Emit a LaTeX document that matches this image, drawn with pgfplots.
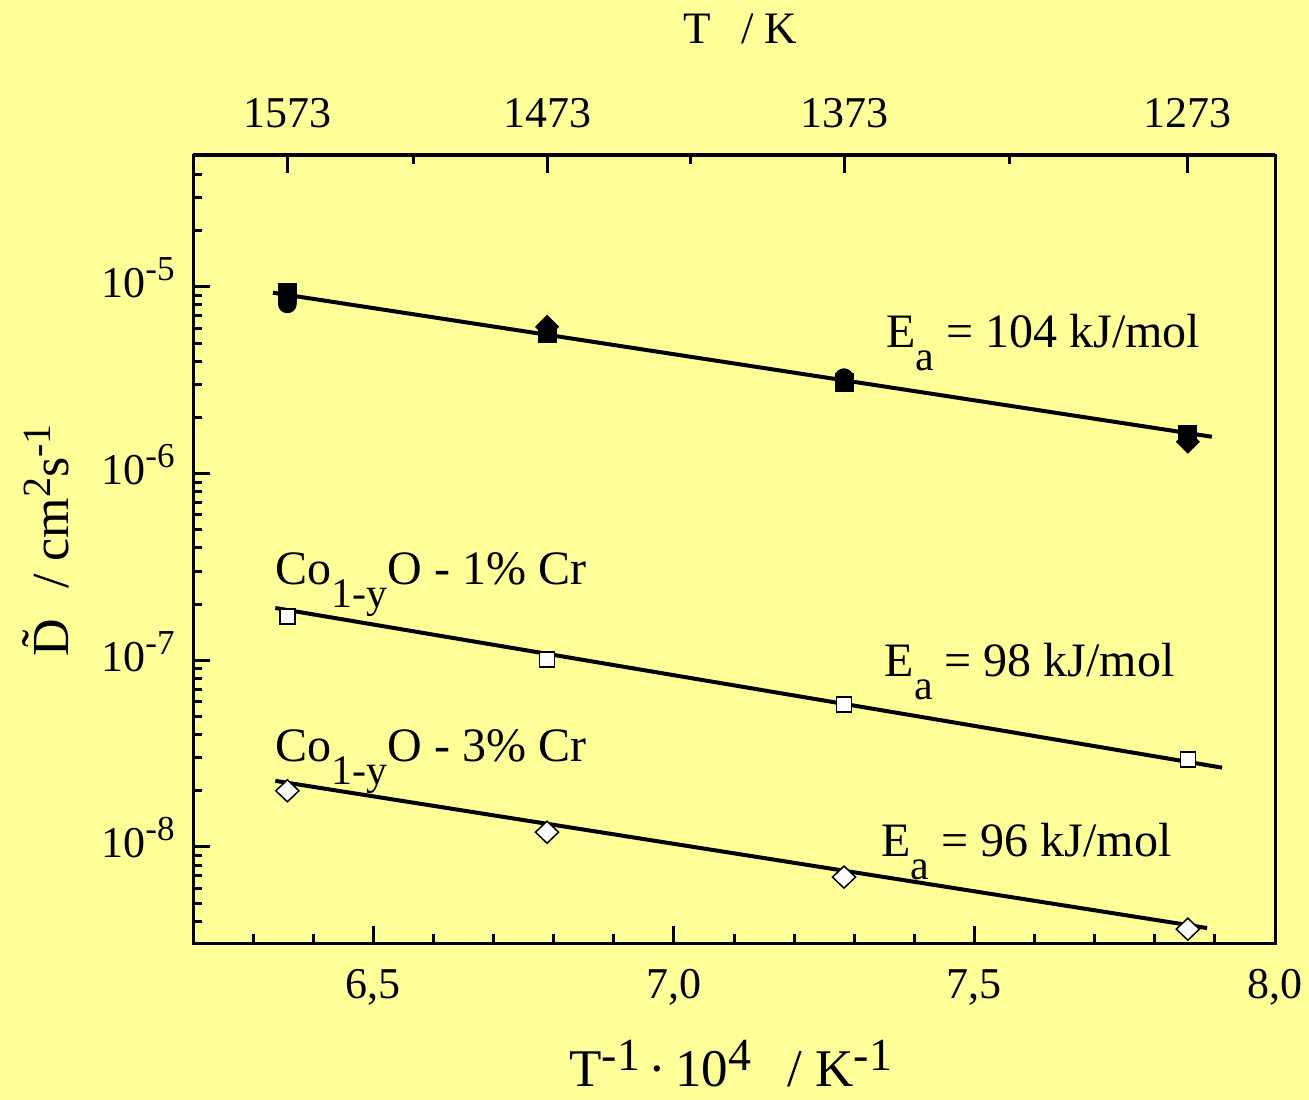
\documentclass[border=0pt]{standalone}
\usepackage{fontspec}
\setmainfont{Liberation Serif}
\usepackage{pgfplots}
\pgfplotsset{compat=1.18}
\definecolor{bg}{RGB}{255,255,153}
\newcommand{\fs}[1]{\fontsize{#1bp}{#1bp}\selectfont}
\newcommand{\upy}[1]{\raisebox{8.5bp}{\fs{17.5}#1}}
\newcommand{\sub}[1]{\raisebox{-11.5bp}{\fs{21}#1}}
\begin{document}
\begin{tikzpicture}
\fill[bg] (0,0) rectangle (654.5bp,550bp);
\begin{axis}[
  at={(96.5bp,78.5bp)}, anchor=south west,
  width=541bp, height=394bp, scale only axis,
  xmin=6.2, xmax=8.0, ymode=log, ymin=3.06e-9, ymax=5.08e-5,
  axis line style={line width=1.5bp},
  every tick/.style={black, line width=1.5bp},
  major tick length=8.5bp, minor tick length=4.5bp, tick align=inside,
  xtick={6.5,7,7.5,8}, xticklabels={{6,5},{7,0},{7,5},{8,0}},
  minor xtick={6.3,6.4,6.6,6.7,6.8,6.9,7.1,7.2,7.3,7.4,7.6,7.7,7.8,7.9},
  xtick pos=bottom, ytick pos=left,
  ytick={1e-8,1e-7,1e-6,1e-5},
  yticklabels={10\upy{-8},10\upy{-7},10\upy{-6},10\upy{-5}},
  minor ytick={4e-9,5e-9,6e-9,7e-9,8e-9,9e-9,2e-8,3e-8,4e-8,5e-8,6e-8,7e-8,8e-8,9e-8,2e-7,3e-7,4e-7,5e-7,6e-7,7e-7,8e-7,9e-7,2e-6,3e-6,4e-6,5e-6,6e-6,7e-6,8e-6,9e-6,2e-5,3e-5,4e-5},
  ticklabel style={font=\fs{22}},
  xticklabel style={anchor=base, yshift=-27.5bp},
  yticklabel style={anchor=base east, inner sep=0pt, xshift=-9bp, yshift=-5.5bp},
  xlabel={T\raisebox{8bp}{\fs{23}-1}\,·\,10\raisebox{8bp}{\fs{23}4}\hspace{18bp}/ K\raisebox{8bp}{\fs{23}-1}},
  xlabel style={font=\fs{26.5}, at={(axis description cs:0.497,-0.1815)}, anchor=base, inner sep=0pt},
  ylabel={\~{D}\hspace{15bp}/ cm\raisebox{9bp}{\fs{20}2}s\raisebox{9bp}{\fs{20}-1}},
  ylabel style={font=\fs{26}, at={(axis description cs:-0.1155,0.511)}, anchor=base, inner sep=0pt},
  clip=false,
]
% top series (filled)
\addplot[only marks, mark=square*, mark size=4.5bp, black] coordinates {
(6.357,9.29e-6) (6.789,5.61e-6) (7.283,3.07e-6) (7.855,1.62e-6)};
\addplot[only marks, mark=*, mark size=4.5bp, black] coordinates {
(6.357,8.11e-6) (7.283,3.26e-6)};
\addplot[only marks, mark=diamond*, mark size=5.75bp, mark options={xscale=1.33}, black] coordinates {
(6.789,6.11e-6) (7.855,1.48e-6)};
% Co1-yO - 1% Cr (open squares)
\addplot[only marks, mark=square*, mark size=3.75bp, mark options={fill=white, draw=black, line width=0.75bp}] coordinates {
(6.357,1.72e-7) (6.789,1.01e-7) (7.283,5.8e-8) (7.855,2.94e-8)};
% Co1-yO - 3% Cr (open diamonds)
\addplot[only marks, mark=diamond*, mark size=5.5bp, mark options={xscale=1.4, fill=white, draw=black, line width=0.75bp}] coordinates {
(6.357,2.0e-8) (6.789,1.2e-8) (7.283,6.9e-9) (7.855,3.63e-9)};
% fit lines
\addplot[black, line width=2bp] coordinates {(6.333,9.3e-6) (7.895,1.574e-6)};
\addplot[black, line width=2bp] coordinates {(6.337,1.905e-7) (7.912,2.66e-8)};
\addplot[black, line width=2bp] coordinates {(6.337,2.26e-8) (7.887,3.68e-9)};
% annotations
\node[anchor=base west, inner sep=0pt, font=\fs{24}] at (axis cs:7.353,4.72e-6) {E\sub{a} = 104 kJ/mol};
\node[anchor=base west, inner sep=0pt, font=\fs{24}] at (axis cs:7.35,8.2e-8) {E\sub{a} = 98 kJ/mol};
\node[anchor=base west, inner sep=0pt, font=\fs{24}] at (axis cs:7.345,8.84e-9) {E\sub{a} = 96 kJ/mol};
\node[anchor=base west, inner sep=0pt, font=\fs{24}] at (axis cs:6.337,2.56e-7) {Co\sub{1-y}O - 1\% Cr};
\node[anchor=base west, inner sep=0pt, font=\fs{24}] at (axis cs:6.337,2.86e-8) {Co\sub{1-y}O - 3\% Cr};
\end{axis}
\begin{axis}[
  at={(96.5bp,78.5bp)}, anchor=south west,
  width=541bp, height=394bp, scale only axis,
  xmin=6.2, xmax=8.0, ymin=0, ymax=1,
  hide y axis, axis x line*=top,
  axis line style={line width=1.5bp, -},
  every tick/.style={black, line width=1.5bp},
  major tick length=9bp, minor tick length=4.5bp, tick align=inside,
  xtick={6.357,6.789,7.283,7.855}, xticklabels={1573,1473,1373,1273},
  minor xtick={6.566,7.027,7.559},
  ticklabel style={font=\fs{22}},
  xticklabel style={anchor=base, yshift=13.5bp},
  clip=false,
]
\node[anchor=base, inner sep=0pt, font=\fs{22.5}] at (axis description cs:0.506,1.142) {T\hspace{15bp}/ K};
\end{axis}
\pgfresetboundingbox
\path[use as bounding box] (0,0) rectangle (654.5bp,550bp);
\end{tikzpicture}
\end{document}
